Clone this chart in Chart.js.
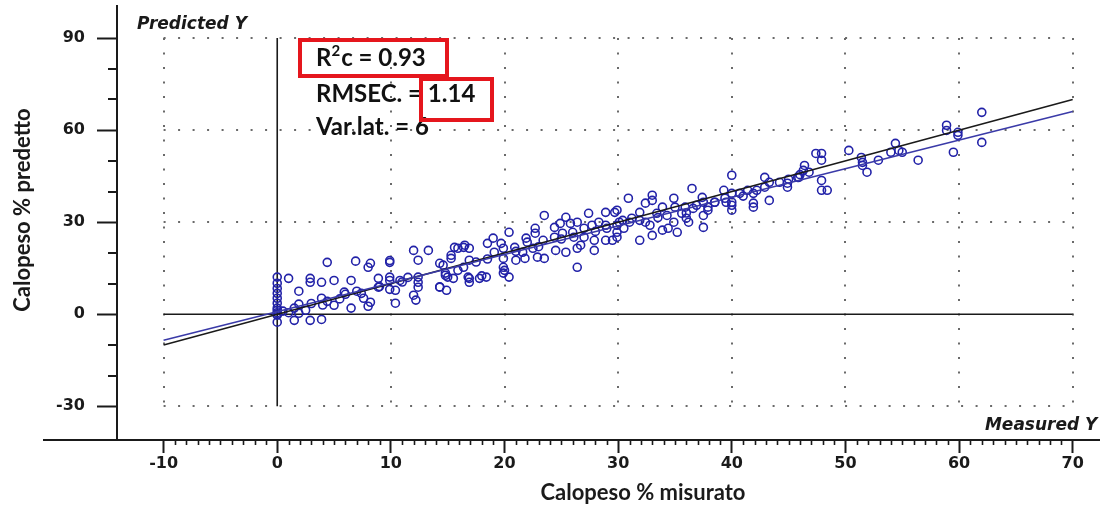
<!DOCTYPE html>
<html>
<head>
<meta charset="utf-8">
<script src="https://cdn.jsdelivr.net/npm/chart.js@4/dist/chart.umd.min.js"></script>
<style>
  html, body { margin: 0; padding: 0; background: #fff; }
  #wrap { width: 1105px; height: 507px; }
</style>
</head>
<body>
<div id="wrap"><canvas id="chart" width="1105" height="507"></canvas></div>
<script>
// 1. data
const measured = [
  0, 0, 0, 0, 0, 0, 0, 0, 0, 0, 0, 0, 0.5, 1.0, 1.5,
  1.0, 1.9, 1.9, 1.5, 2.9, 2.9, 3.9, 5.0, 4.4, 2.9, 3.9, 2.5, 1.9, 3.9, 5.0, 4.4, 5.9, 6.5, 6.5, 6.9,
  7.6, 8.2, 8.0, 8.2, 8.0, 7.4, 8.9, 8.9, 9.9, 9.9, 9.9, 9.9, 9.9, 10.4, 10.4, 10.8, 12.0, 13.3, 12.4,
  12.4, 12.4, 12.4, 12.0, 12.2, 14.3, 14.3, 14.8,
  3.0, 5.5, 7.0, 9.0, 11.0, 4.0, 6.0, 11.5,
  14.6, 14.8, 15.3, 15.3, 15.6, 15.9, 16.5, 16.9, 15.5, 15.0, 15.9, 16.4, 16.9, 16.9, 16.9, 17.8, 18.4,
  18.5, 19.0, 19.1, 19.7, 19.9, 19.9, 20.0, 19.9, 20.4, 20.4, 20.9, 21.0, 21.6, 21.8, 21.9, 22.0, 22.7,
  22.7, 22.5, 22.9, 23.5, 23.5, 23.4, 24.4, 24.4, 24.5, 24.9, 25.1, 25.4, 25.4, 25.8, 26.0, 26.1, 26.4,
  26.4, 26.7, 27.0, 27.0, 26.4, 27.7, 27.4, 27.9, 27.9, 28.3, 28.9, 29.7, 28.9, 29.0, 28.9, 29.5, 29.9,
  29.9, 29.9, 29.9, 30.4, 30.5,
  14.3, 14.9, 16.8, 18.0, 19.9, 16.4, 17.5, 18.5, 21.0, 23.0, 25.0, 28.0,
  30.9, 30.1, 31.2, 31.9, 31.9, 32.4, 31.9, 32.4, 33.0, 33.0, 32.8, 33.0, 33.4, 33.9, 33.9, 34.4, 34.3,
  34.9, 35.0, 34.9, 35.2, 35.6, 35.9, 36.0, 36.2, 36.5, 36.6, 36.9, 37.4, 37.5, 37.5, 37.5, 37.9, 37.9,
  38.5, 39.3, 39.4, 39.5, 40.0, 40.0, 40.0, 40.0, 40.0, 40.7, 41.4, 41.9, 41.9, 41.9, 42.2, 42.9, 43.3,
  42.9, 43.3, 44.2, 44.9, 44.9, 45.9, 46.4,
  31.0, 33.5, 36.0, 38.5, 41.0,
  46.3, 45.8, 46.8, 47.4, 47.9, 47.9, 47.9, 47.9, 48.4, 50.3, 51.4, 51.5, 51.5, 51.9, 52.9, 54.0, 54.4,
  54.7, 55.0, 56.4, 58.9, 58.9, 59.5, 59.9, 59.9, 62.0, 62.0, 45.0, 46.0
];
const predicted = [
  12.1, 10.1, 8.4, 6.8, 5.2, 3.6, 1.3, -0.3, -2.6, 0.5, 2.0, 0.0, 1.0, 0.5, 2.0,
  11.7, 7.5, 3.3, -2.0, 11.7, 10.4, 10.4, 11.0, 16.9, -2.0, -1.7, 1.3, 0.3, 5.2, 2.9, 4.2, 7.2, 11.0, 2.0, 17.3,
  5.2, 16.6, 15.3, 3.9, 2.6, 6.8, 11.7, 8.8, 16.9, 17.5, 12.1, 11.0, 8.1, 7.8, 3.6, 11.0, 20.8, 20.8, 17.6,
  12.1, 10.4, 8.8, 6.2, 4.6, 16.6, 8.8, 12.7,
  3.5, 5.0, 7.5, 9.0, 10.5, 3.0, 6.5, 12.0,
  16.0, 13.4, 19.2, 18.2, 21.8, 21.5, 22.5, 21.5, 11.7, 12.1, 14.3, 15.3, 17.6, 11.7, 10.4, 11.7, 12.1,
  23.1, 24.8, 20.2, 23.1, 21.5, 18.2, 14.3, 15.3, 26.7, 12.1, 21.8, 17.6, 20.2, 18.2, 24.8, 23.5, 28.0,
  26.4, 21.5, 18.6, 18.2, 32.2, 24.1, 28.3, 25.1, 20.8, 29.6, 26.4, 31.6, 20.2, 29.6, 26.7, 25.1, 30.0,
  21.5, 22.5, 28.0, 25.1, 15.3, 29.0, 32.9, 24.1, 20.8, 30.0, 33.2, 33.2, 29.0, 28.0, 24.1, 24.1, 29.0,
  26.7, 25.1, 33.9, 30.6, 28.0,
  8.9, 7.8, 12.1, 12.5, 13.4, 21.8, 17.0, 18.0, 20.5, 22.0, 24.5, 27.0,
  37.8, 30.0, 31.3, 33.2, 30.6, 30.0, 24.1, 36.2, 38.8, 37.1, 29.0, 25.7, 32.9, 34.9, 27.4, 28.0, 32.2,
  37.8, 34.9, 30.0, 26.7, 32.9, 34.9, 31.3, 30.0, 41.0, 34.5, 35.5, 38.1, 36.5, 32.2, 28.3, 34.9, 33.9,
  36.5, 40.4, 37.8, 36.5, 45.3, 39.4, 36.5, 35.5, 33.9, 39.4, 40.4, 39.4, 36.2, 34.9, 40.4, 44.6, 43.0,
  41.4, 37.1, 43.0, 42.7, 41.4, 44.6, 48.5,
  30.0, 31.5, 33.0, 36.5, 38.5,
  46.9, 44.6, 46.3, 52.4, 52.4, 50.2, 43.6, 40.4, 40.4, 53.4, 51.1, 49.5, 48.5, 46.3, 50.2, 52.8, 55.7,
  53.4, 52.8, 50.2, 61.6, 59.9, 52.8, 59.3, 58.3, 65.8, 56.0, 44.0, 45.5
];

// target line (Y = X) and fitted line, end points only
const lineX = [-10, 70];
const targetY = [-10, 70];
const fitY = [-8.5, 66.1];

const xTicks = [-10, 0, 10, 20, 30, 40, 50, 60, 70];
const yTicks = [-30, 0, 30, 60, 90];

const stats = ['0.93', '1.14', '6'];

// 2. datasets
const points = measured.map((x, i) => ({ x: x, y: predicted[i] }));
const targetLine = lineX.map((x, i) => ({ x: x, y: targetY[i] }));
const fitLine = lineX.map((x, i) => ({ x: x, y: fitY[i] }));

const INK = '#1a1a1a';
const BLUE = '#2222a8';

// 3. extra drawing: dotted grid, zero lines, minor ticks, labels
const decor = {
  id: 'decor',
  beforeDatasetsDraw(chart) {
    const ctx = chart.ctx;
    const xs = chart.scales.x, ys = chart.scales.y;
    const x0 = xs.getPixelForValue(xTicks[0]), x1 = xs.getPixelForValue(xTicks[xTicks.length - 1]);
    const y0 = ys.getPixelForValue(yTicks[0]), y1 = ys.getPixelForValue(yTicks[yTicks.length - 1]);
    ctx.save();
    // dotted grid
    ctx.strokeStyle = '#6a6a6a';
    ctx.lineWidth = 2;
    ctx.setLineDash([2, 12.5]);
    xTicks.forEach(v => {
      if (v === 0) return;
      const px = Math.round(xs.getPixelForValue(v));
      ctx.beginPath(); ctx.moveTo(px, y1); ctx.lineTo(px, y0); ctx.stroke();
    });
    yTicks.forEach(v => {
      if (v === 0) return;
      const py = Math.round(ys.getPixelForValue(v));
      ctx.beginPath(); ctx.moveTo(x0, py); ctx.lineTo(x1, py); ctx.stroke();
    });
    ctx.setLineDash([]);
    // solid zero lines
    ctx.strokeStyle = INK;
    ctx.lineWidth = 1.6;
    const zx = xs.getPixelForValue(0), zy = ys.getPixelForValue(0);
    ctx.beginPath(); ctx.moveTo(zx, y1); ctx.lineTo(zx, y0); ctx.stroke();
    ctx.beginPath(); ctx.moveTo(x0, zy); ctx.lineTo(x1, zy); ctx.stroke();
    ctx.restore();
  },
  afterDraw(chart) {
    const ctx = chart.ctx;
    const xs = chart.scales.x, ys = chart.scales.y;
    const area = chart.chartArea;
    ctx.save();
    // x axis line runs on past the y axis
    ctx.strokeStyle = INK;
    ctx.lineWidth = 2;
    ctx.beginPath(); ctx.moveTo(area.left - 74, area.bottom); ctx.lineTo(area.left, area.bottom); ctx.stroke();
    // minor ticks
    ctx.lineWidth = 1.6;
    for (let v = xTicks[0]; v <= xTicks[xTicks.length - 1]; v++) {
      if (v % 10 === 0) continue;
      const px = Math.round(xs.getPixelForValue(v)) + 0.5;
      ctx.beginPath(); ctx.moveTo(px, area.bottom); ctx.lineTo(px, area.bottom + 5); ctx.stroke();
    }
    ctx.lineWidth = 2;
    for (let v = yTicks[0]; v <= yTicks[yTicks.length - 1]; v += 10) {
      if (v % 30 === 0) continue;
      const py = Math.round(ys.getPixelForValue(v));
      ctx.beginPath(); ctx.moveTo(area.left - 9, py); ctx.lineTo(area.left, py); ctx.stroke();
    }
    // axis names in the corners
    ctx.fillStyle = INK;
    ctx.font = 'oblique bold 17px "DejaVu Sans"';
    ctx.textBaseline = 'alphabetic';
    ctx.textAlign = 'left';
    ctx.fillText('Predicted Y', area.left + 20, 29);
    ctx.textAlign = 'right';
    ctx.fillText('Measured Y', area.right - 2, area.bottom - 10);
    // axis titles
    ctx.font = 'bold 22px Lato';
    ctx.textAlign = 'center';
    ctx.textBaseline = 'middle';
    ctx.fillText('Calopeso % misurato', 643, 493);
    ctx.save();
    ctx.translate(23, 210);
    ctx.rotate(-Math.PI / 2);
    ctx.fillText('Calopeso % predetto', 0, 0);
    ctx.restore();
    // statistics
    ctx.textAlign = 'left';
    ctx.textBaseline = 'alphabetic';
    ctx.fillStyle = '#111';
    const tx = 316;
    ctx.font = 'bold 24px Lato';
    ctx.fillText('R', tx, 66);
    let w = ctx.measureText('R').width;
    ctx.font = 'bold 15px Lato';
    ctx.fillText('2', tx + w, 56);
    w += ctx.measureText('2').width;
    ctx.font = 'bold 24px Lato';
    ctx.fillText('c = ' + stats[0], tx + w + 1, 66);
    ctx.fillText('RMSEC. = ' + stats[1], tx, 102);
    ctx.fillText('Var.lat. = ' + stats[2], tx, 135);
    // red highlight boxes
    ctx.strokeStyle = '#e5161d';
    ctx.lineWidth = 4;
    ctx.strokeRect(300, 40, 147, 36);
    ctx.strokeRect(421, 79, 71, 41);
    ctx.restore();
  }
};

// keep the plot box fixed: axis sizes set, no label padding
function fixY(s) { s.width = 117; s.paddingTop = 0; s.paddingBottom = 0; }
function fixX(s) { s.height = 67; s.paddingLeft = 0; s.paddingRight = 0; }

const tickFont = { family: 'DejaVu Sans', weight: 'bold', size: 16 };

// 4. chart
new Chart(document.getElementById('chart'), {
  type: 'scatter',
  data: {
    datasets: [
      {
        data: points,
        showLine: false,
        pointStyle: 'circle',
        pointRadius: 4,
        pointBorderWidth: 1.6,
        pointBorderColor: BLUE,
        pointBackgroundColor: 'rgba(0,0,0,0)',
        order: 2
      },
      {
        data: targetLine,
        showLine: true,
        borderColor: INK,
        borderWidth: 1.6,
        pointRadius: 0,
        order: 1
      },
      {
        data: fitLine,
        showLine: true,
        borderColor: '#3a3aa8',
        borderWidth: 1.6,
        pointRadius: 0,
        order: 0
      }
    ]
  },
  options: {
    responsive: false,
    animation: false,
    devicePixelRatio: 1,
    layout: { padding: { top: 5, right: 0, left: 0, bottom: 0 } },
    plugins: { legend: { display: false }, tooltip: { enabled: false } },
    scales: {
      x: {
        type: 'linear',
        min: -14.1,
        max: 72.35,
        afterBuildTicks: s => { s.ticks = xTicks.map(v => ({ value: v })); },
        afterFit: fixX,
        grid: { drawOnChartArea: false, drawTicks: true, tickLength: 13, tickColor: INK, tickWidth: 2 },
        border: { color: INK, width: 2 },
        ticks: { autoSkip: false, maxRotation: 0, padding: 1, color: INK, font: tickFont }
      },
      y: {
        type: 'linear',
        min: -41,
        max: 100.6,
        afterBuildTicks: s => { s.ticks = yTicks.map(v => ({ value: v })); },
        afterFit: fixY,
        grid: { drawOnChartArea: false, drawTicks: true, tickLength: 20, tickColor: INK, tickWidth: 2 },
        border: { color: INK, width: 2 },
        ticks: { autoSkip: false, padding: 12, color: INK, font: tickFont }
      }
    }
  },
  plugins: [decor]
});
</script>
</body>
</html>
